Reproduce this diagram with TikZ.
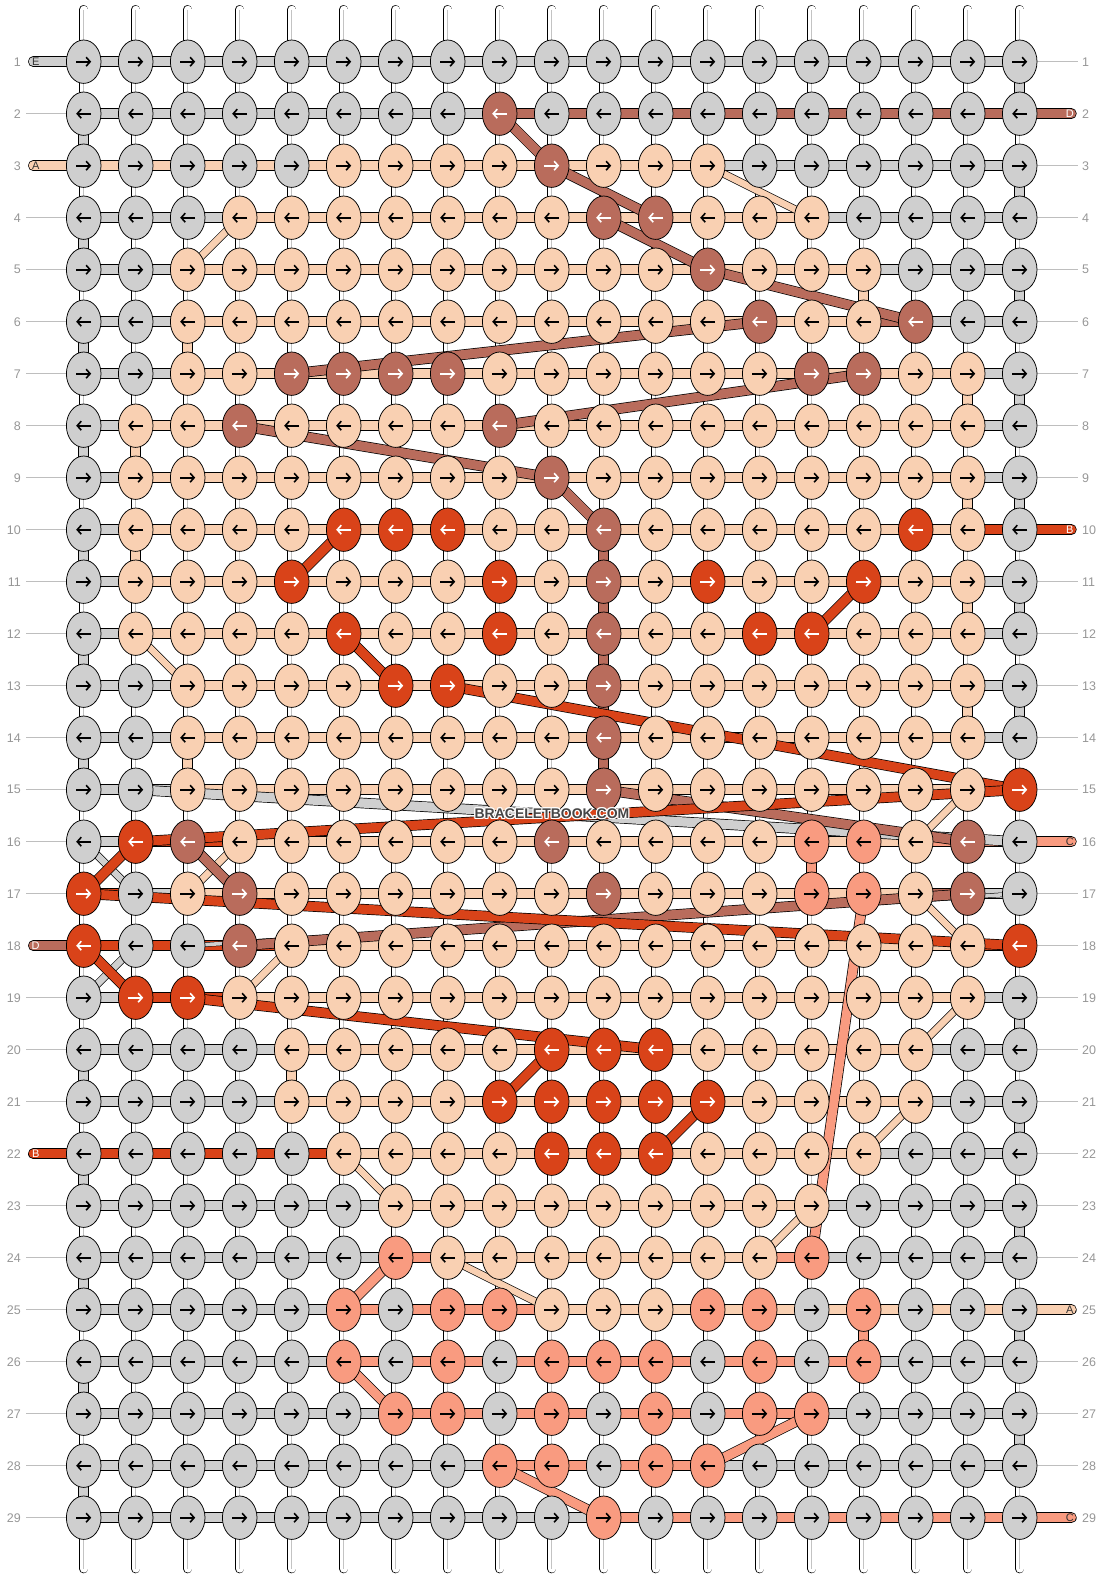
\documentclass[tikz,border=0pt]{standalone}
\usepackage{fontspec}
\setmainfont{Liberation Sans}
\usetikzlibrary{shapes.geometric,arrows.meta}
\definecolor{kG}{RGB}{207,207,207}
\definecolor{kP}{RGB}{249,208,178}
\definecolor{kB}{RGB}{185,108,92}
\definecolor{kR}{RGB}{217,67,25}
\definecolor{kS}{RGB}{249,155,128}
\colorlet{aG}{black}\colorlet{aP}{black}\colorlet{aS}{black}
\colorlet{aB}{white}\colorlet{aR}{white}
\definecolor{numgray}{RGB}{150,150,150}
\definecolor{leadgray}{RGB}{190,190,190}
\definecolor{warpmid}{RGB}{195,195,195}
\definecolor{wmgray}{RGB}{70,70,70}
\definecolor{labdark}{RGB}{50,50,50}
\pgfdeclarelayer{warp}
\pgfdeclarelayer{segs}
\pgfdeclarelayer{diags}
\pgfsetlayers{warp,segs,diags,main}
\tikzset{
 knot/.style={ellipse, draw=black, line width=0.75pt, minimum width=34.6pt, minimum height=43.4pt, inner sep=0pt},
 arr/.style={line width=1.6pt, -{Straight Barb[length=4pt,width=9pt]}},
 seg/.style={draw=black, line width=0.7pt, double=#1, double distance=9.2pt},
 tseg/.style={draw=black, line width=0.7pt, double=#1, double distance=6.6pt},
 fseg/.style={draw=black, line width=0.5pt, double=#1, double distance=3.6pt},
 warpline/.style={draw=black, line width=0.7pt, double=white, double distance=7.6pt, line cap=round},
 numlab/.style={text=numgray, font=\fontsize{12.5}{14}\selectfont, inner sep=0pt},
 leader/.style={draw=leadgray, line width=0.8pt},
 endlab/.style={font=\fontsize{11}{12}\selectfont, inner sep=0pt},
 wm/.style={font=\fontsize{14}{16}\selectfont\bfseries, inner sep=0pt},
}
\newcommand\knotrow[2]{%
  \foreach \kc [count=\ci] in {#2}{%
    \node[knot, fill=k\kc] (k-#1-\ci) at ({83.7+52*(\ci-1)},{61.7+52*(#1-1)}) {};
    \ifodd#1\relax
      \draw[arr, draw=a\kc] ([xshift=-7.5pt]k-#1-\ci.center) -- ([xshift=7.5pt]k-#1-\ci.center);
    \else
      \draw[arr, draw=a\kc] ([xshift=7.5pt]k-#1-\ci.center) -- ([xshift=-7.5pt]k-#1-\ci.center);
    \fi
  }}
\newcommand\gaprow[2]{%
  \foreach \gc [count=\ci] in {#2}{%
    \pgfmathtruncatemacro\cn{\ci+1}%
    \draw[seg=k\gc] (k-#1-\ci.center) -- (k-#1-\cn.center);
  }}
\begin{document}
\begin{tikzpicture}[x=1pt,y=-1pt]
\useasboundingbox (0,0) rectangle (1104,1580);
% ---------- knots ----------
\knotrow{1}{G,G,G,G, G,G,G,G, G,G,G,G, G,G,G,G, G,G,G}
\knotrow{2}{G,G,G,G, G,G,G,G, B,G,G,G, G,G,G,G, G,G,G}
\knotrow{3}{G,G,G,G, G,P,P,P, P,B,P,P, P,G,G,G, G,G,G}
\knotrow{4}{G,G,G,P, P,P,P,P, P,P,B,B, P,P,P,G, G,G,G}
\knotrow{5}{G,G,P,P, P,P,P,P, P,P,P,P, B,P,P,P, G,G,G}
\knotrow{6}{G,G,P,P, P,P,P,P, P,P,P,P, P,B,P,P, B,G,G}
\knotrow{7}{G,G,P,P, B,B,B,B, P,P,P,P, P,P,B,B, P,P,G}
\knotrow{8}{G,P,P,B, P,P,P,P, B,P,P,P, P,P,P,P, P,P,G}
\knotrow{9}{G,P,P,P, P,P,P,P, P,B,P,P, P,P,P,P, P,P,G}
\knotrow{10}{G,P,P,P, P,R,R,R, P,P,B,P, P,P,P,P, R,P,G}
\knotrow{11}{G,P,P,P, R,P,P,P, R,P,B,P, R,P,P,R, P,P,G}
\knotrow{12}{G,P,P,P, P,R,P,P, R,P,B,P, P,R,R,P, P,P,G}
\knotrow{13}{G,G,P,P, P,P,R,R, P,P,B,P, P,P,P,P, P,P,G}
\knotrow{14}{G,G,P,P, P,P,P,P, P,P,B,P, P,P,P,P, P,P,G}
\knotrow{15}{G,G,P,P, P,P,P,P, P,P,B,P, P,P,P,P, P,P,R}
\knotrow{16}{G,R,B,P, P,P,P,P, P,B,P,P, P,P,S,S, P,B,G}
\knotrow{17}{R,G,P,B, P,P,P,P, P,P,B,P, P,P,S,S, P,B,G}
\knotrow{18}{R,G,G,B, P,P,P,P, P,P,P,P, P,P,P,P, P,P,R}
\knotrow{19}{G,R,R,P, P,P,P,P, P,P,P,P, P,P,P,P, P,P,G}
\knotrow{20}{G,G,G,G, P,P,P,P, P,R,R,R, P,P,P,P, P,G,G}
\knotrow{21}{G,G,G,G, P,P,P,P, R,R,R,R, R,P,P,P, P,G,G}
\knotrow{22}{G,G,G,G, G,P,P,P, P,R,R,R, P,P,P,P, G,G,G}
\knotrow{23}{G,G,G,G, G,G,P,P, P,P,P,P, P,P,P,G, G,G,G}
\knotrow{24}{G,G,G,G, G,G,S,P, P,P,P,P, P,P,S,G, G,G,G}
\knotrow{25}{G,G,G,G, G,S,G,S, S,P,P,P, S,S,G,S, G,G,G}
\knotrow{26}{G,G,G,G, G,S,G,S, G,S,S,S, G,S,G,S, G,G,G}
\knotrow{27}{G,G,G,G, G,G,S,S, G,S,G,S, G,S,S,G, G,G,G}
\knotrow{28}{G,G,G,G, G,G,G,G, S,S,G,S, S,G,G,G, G,G,G}
\knotrow{29}{G,G,G,G, G,G,G,G, G,G,S,G, G,G,G,G, G,G,G}
% ---------- row numbers and end coordinates ----------
\foreach \rr in {1,...,29}{
  \node[numlab, anchor=east] (nl-\rr) at (21,{61.7+52*(\rr-1)}) {\rr};
  \node[numlab, anchor=west] (nr-\rr) at (1082,{61.7+52*(\rr-1)}) {\rr};
  \coordinate (ll-\rr) at (26,{61.7+52*(\rr-1)});
  \coordinate (lr-\rr) at (1078,{61.7+52*(\rr-1)});
  \coordinate (el-\rr) at (33.3,{61.7+52*(\rr-1)});
  \coordinate (er-\rr) at (1071.4,{61.7+52*(\rr-1)});
}
\foreach \cc in {1,...,19}{
  \coordinate (wt-\cc) at ({83.7+52*(\cc-1)},9.5);
  \coordinate (wb-\cc) at ({83.7+52*(\cc-1)},1568.8);
}
% ---------- warp strands and leaders ----------
\begin{pgfonlayer}{warp}
  \foreach \cc in {1,...,19}{
    \draw[warpline] (wt-\cc) -- (wb-\cc);
    \draw[warpmid, line width=0.6pt] (wt-\cc) -- (wb-\cc);
  }
  \foreach \rr in {2,4,5,6,7,8,9,10,11,12,13,14,15,16,17,19,20,21,23,24,25,26,27,28,29}
    \draw[leader] (ll-\rr) -- (k-\rr-1.center);
  \foreach \rr in {1,3,4,5,6,7,8,9,11,12,13,14,15,17,18,19,20,21,22,23,24,26,27,28}
    \draw[leader] (k-\rr-19.center) -- (lr-\rr);
\end{pgfonlayer}
% ---------- horizontal and vertical thread segments ----------
\begin{pgfonlayer}{segs}
\gaprow{1}{G,G,G,G, G,G,G,G, G,G,G,G, G,G,G,G, G,G}
\gaprow{2}{G,G,G,G, G,G,G,G, B,B,B,B, B,B,B,B, B,B}
\gaprow{3}{P,P,P,P, P,P,P,P, P,P,P,P, G,G,G,G, G,G}
\gaprow{4}{G,G,G,P, P,P,P,P, P,P,P,P, P,P,G,G, G,G}
\gaprow{5}{G,G,P,P, P,P,P,P, P,P,P,P, P,P,P,G, G,G}
\gaprow{6}{G,G,P,P, P,P,P,P, P,P,P,P, P,P,P,B, G,G}
\gaprow{7}{G,G,P,P, P,P,P,P, P,P,P,P, P,P,P,P, P,G}
\gaprow{8}{G,P,P,P, P,P,P,P, P,P,P,P, P,P,P,P, P,G}
\gaprow{9}{G,P,P,P, P,P,P,P, P,P,P,P, P,P,P,P, P,G}
\gaprow{10}{G,P,P,P, P,P,P,P, P,P,P,P, P,P,P,P, P,R}
\gaprow{11}{G,P,P,P, P,P,P,P, P,P,P,P, P,P,P,P, P,G}
\gaprow{12}{G,P,P,P, P,P,P,P, P,P,P,P, P,P,P,P, P,G}
\gaprow{13}{G,G,P,P, P,P,P,P, P,P,P,P, P,P,P,P, P,G}
\gaprow{14}{G,G,P,P, P,P,P,P, P,P,P,P, P,P,P,P, P,G}
\gaprow{15}{G,G,P,P, P,P,P,P, P,P,P,P, P,P,P,P, P,R}
\gaprow{16}{G,R,R,P, P,P,P,P, P,P,P,P, P,P,P,P, S,S}
\gaprow{17}{R,G,P,P, P,P,P,P, P,P,P,P, P,P,P,P, B,G}
\gaprow{18}{R,R,R,R, P,P,P,P, P,P,P,P, P,P,P,P, P,R}
\gaprow{19}{G,R,R,P, P,P,P,P, P,P,P,P, P,P,P,P, P,G}
\gaprow{20}{G,G,G,G, P,P,P,P, P,P,P,P, P,P,P,P, G,G}
\gaprow{21}{G,G,G,G, P,P,P,P, P,P,P,P, P,P,P,P, G,G}
\gaprow{22}{R,R,R,R, R,P,P,P, P,P,P,P, P,P,P,G, G,G}
\gaprow{23}{G,G,G,G, G,G,P,P, P,P,P,P, P,P,G,G, G,G}
\gaprow{24}{G,G,G,G, G,G,S,P, P,P,P,P, P,S,G,G, G,G}
\gaprow{25}{G,G,G,G, G,S,S,S, S,P,P,P, P,P,P,P, P,P}
\gaprow{26}{G,G,G,G, G,S,S,S, S,S,S,S, S,S,S,G, G,G}
\gaprow{27}{G,G,G,G, G,G,S,S, S,S,S,S, S,S,G,G, G,G}
\gaprow{28}{G,G,G,G, G,G,G,G, S,S,S,S, G,G,G,G, G,G}
\gaprow{29}{G,G,G,G, G,G,G,G, G,G,S,S, S,S,S,S, S,S}
% turning segments at the edges
\foreach \rr in {2,4,6,8,10,12,14,20,22,24,26,28}{
  \pgfmathtruncatemacro\rn{\rr+1}
  \draw[seg=kG] (k-\rr-1.center) -- (k-\rn-1.center);}
\foreach \rr in {1,3,5,7,9,11,13,19,21,23,25,27}{
  \pgfmathtruncatemacro\rn{\rr+1}
  \draw[seg=kG] (k-\rr-19.center) -- (k-\rn-19.center);}
\foreach \rr/\cc in {5/16,6/3,7/18,8/2,9/18,10/2,11/18,13/18,14/3,20/5}{
  \pgfmathtruncatemacro\rn{\rr+1}
  \draw[seg=kP] (k-\rr-\cc.center) -- (k-\rn-\cc.center);}
\foreach \rr in {10,...,14}{
  \pgfmathtruncatemacro\rn{\rr+1}
  \draw[seg=kB] (k-\rr-11.center) -- (k-\rn-11.center);}
\foreach \rr/\cc in {16/15,25/16}{
  \pgfmathtruncatemacro\rn{\rr+1}
  \draw[seg=kS] (k-\rr-\cc.center) -- (k-\rn-\cc.center);}
% thread ends
\draw[seg=kG, line cap=round] (el-1) -- (k-1-1.center);
\draw[seg=kP, line cap=round] (el-3) -- (k-3-1.center);
\draw[seg=kB, line cap=round] (el-18) -- (k-18-1.center);
\draw[seg=kR, line cap=round] (el-22) -- (k-22-1.center);
\draw[seg=kB, line cap=round] (k-2-19.center) -- (er-2);
\draw[seg=kR, line cap=round] (k-10-19.center) -- (er-10);
\draw[seg=kS, line cap=round] (k-16-19.center) -- (er-16);
\draw[seg=kP, line cap=round] (k-25-19.center) -- (er-25);
\draw[seg=kS, line cap=round] (k-29-19.center) -- (er-29);
\end{pgfonlayer}
% ---------- diagonal thread jumps ----------
\begin{pgfonlayer}{diags}
\foreach \a/\b in {3-13/4-15, 4-4/5-3, 12-2/13-3, 15-18/16-17, 16-4/17-3, 17-17/18-18, 18-5/19-4, 19-18/20-17, 21-17/22-16, 22-6/23-7, 23-15/24-14, 24-8/25-10}
  \draw[tseg=kP] (k-\a.center) -- (k-\b.center);
\draw[seg=kG] (k-15-2.center) -- (k-16-19.center);
\foreach \a/\b in {16-1/17-2, 18-2/19-1}
  \draw[tseg=kG] (k-\a.center) -- (k-\b.center);
\draw[fseg=kG] (k-18-3.center) -- (k-17-19.center);
\foreach \a/\b in {2-9/3-10, 3-10/4-12, 4-11/5-13, 5-13/6-17, 6-14/7-5, 7-16/8-9, 8-4/9-10, 9-10/10-11, 15-11/16-18, 16-3/17-4, 18-4/17-18}
  \draw[seg=kB] (k-\a.center) -- (k-\b.center);
\foreach \a/\b in {10-6/11-5, 12-6/13-7, 13-8/15-19, 11-16/12-15, 15-19/16-2, 16-2/17-1, 17-1/18-19, 18-1/19-2, 19-3/20-12, 20-10/21-9, 21-13/22-12}
  \draw[seg=kR] (k-\a.center) -- (k-\b.center);
\foreach \a/\b in {17-16/24-15, 24-7/25-6, 26-6/27-7, 28-9/29-11, 27-15/28-13}
  \draw[seg=kS] (k-\a.center) -- (k-\b.center);
\end{pgfonlayer}
% ---------- thread end letters ----------
\node[endlab, text=labdark] (tl-1) at ([xshift=2.4pt]el-1) {E};
\node[endlab, text=labdark] (tl-3) at ([xshift=2.4pt]el-3) {A};
\node[endlab, text=white] (tl-18) at ([xshift=2.4pt]el-18) {D};
\node[endlab, text=white] (tl-22) at ([xshift=2.4pt]el-22) {B};
\node[endlab, text=white] (tr-2) at ([xshift=-1.6pt]er-2) {D};
\node[endlab, text=white] (tr-10) at ([xshift=-1.6pt]er-10) {B};
\node[endlab, text=labdark] (tr-16) at ([xshift=-1.6pt]er-16) {C};
\node[endlab, text=labdark] (tr-25) at ([xshift=-1.6pt]er-25) {A};
\node[endlab, text=labdark] (tr-29) at ([xshift=-1.6pt]er-29) {C};
% ---------- watermark ----------
\foreach \dx/\dy [count=\wi] in {1/0,-1/0,0/1,0/-1,1/1,-1/1,1/-1,-1/-1}
  \node[wm, text=white] (wmh-\wi) at (552+\dx,814+\dy) {BRACELETBOOK.COM};
\node[wm, text=wmgray] (wm) at (552,814) {BRACELETBOOK.COM};
\end{tikzpicture}
\end{document}
